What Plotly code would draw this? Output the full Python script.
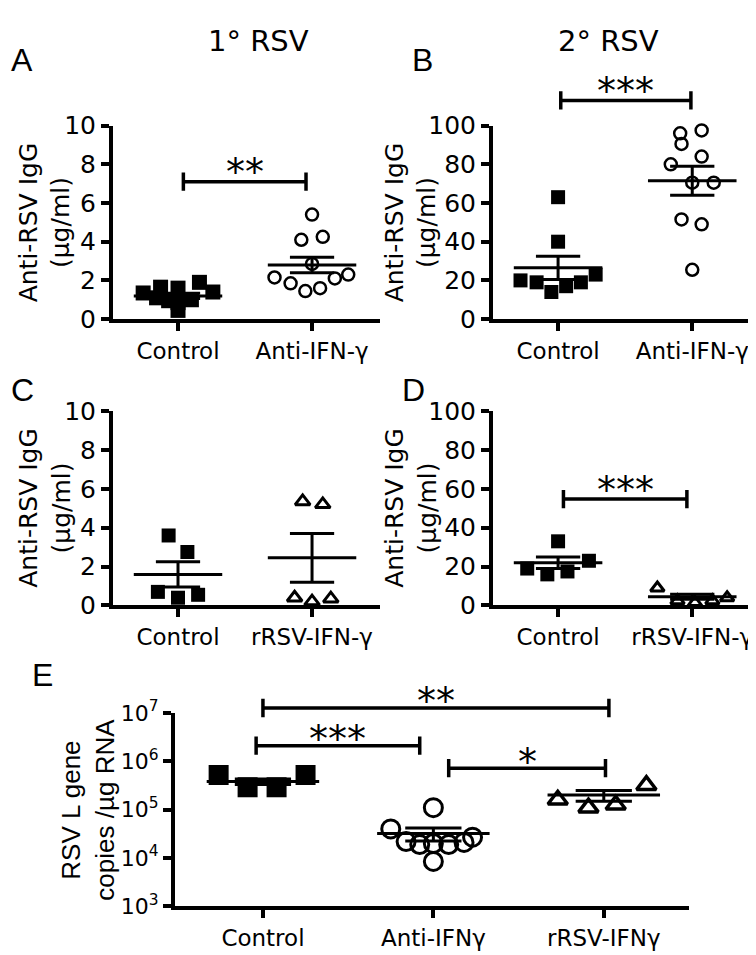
import math
import plotly.graph_objects as go

W, H = 756, 955

# ---------------- data ----------------
groups_AB = ["Control", "Anti-IFN-γ"]
groups_CD = ["Control", "rRSV-IFN-γ"]
groups_E = ["Control", "Anti-IFNγ", "rRSV-IFNγ"]

ticks_small = [0, 2, 4, 6, 8, 10]
ticks_large = [0, 20, 40, 60, 80, 100]
ticks_log = [1e3, 1e4, 1e5, 1e6, 1e7]
ticks_log_text = ["10<sup>3</sup>", "10<sup>4</sup>", "10<sup>5</sup>", "10<sup>6</sup>", "10<sup>7</sup>"]

# Panel A: 1° RSV, anti-RSV IgG (µg/ml)
a_control = [1.35, 1.65, 1.1, 1.6, 0.85, 0.45, 1.0, 1.9, 1.4, 0.95]
a_control_jitter = [-0.26, -0.13, -0.16, 0.0, 0.0, 0.0, 0.10, 0.16, 0.26, -0.07]
a_anti = [5.4, 4.1, 4.25, 2.85, 2.15, 1.85, 1.45, 1.6, 2.1, 2.3]
a_anti_jitter = [0.0, -0.08, 0.08, 0.0, -0.28, -0.16, -0.05, 0.06, 0.17, 0.27]
a_mean = [1.2, 2.8]
a_sem = [0.13, 0.4]

# Panel B: 2° RSV
b_control = [20, 19, 14, 17, 19, 23, 63, 40]
b_control_jitter = [-0.28, -0.16, -0.05, 0.06, 0.17, 0.28, 0.0, 0.0]
b_anti = [96, 97.5, 90.5, 84, 80, 70.5, 70.5, 51.5, 49, 25.5]
b_anti_jitter = [-0.09, 0.07, -0.08, 0.07, -0.16, 0.0, 0.16, -0.08, 0.07, 0.0]
b_mean = [26.5, 71.5]
b_sem = [6.0, 7.5]

# Panel C: 1° RSV, rRSV-IFN-γ
c_control = [3.6, 2.75, 0.7, 0.4, 0.55]
c_control_jitter = [-0.07, 0.07, -0.15, 0.0, 0.15]
c_rrsv = [5.35, 5.2, 0.4, 0.2, 0.35]
c_rrsv_jitter = [-0.07, 0.08, -0.13, 0.0, 0.14]
c_mean = [1.6, 2.45]
c_sem = [0.65, 1.25]

# Panel D: 2° RSV, rRSV-IFN-γ
d_control = [33, 19, 16, 17.5, 23]
d_control_jitter = [0.0, -0.23, -0.08, 0.07, 0.23]
d_rrsv = [9, 2.5, 1.5, 2.5, 4]
d_rrsv_jitter = [-0.26, -0.11, 0.02, 0.15, 0.26]
d_mean = [22, 4.5]
d_sem = [3.0, 1.3]

# Panel E: RSV L gene copies / µg RNA
e_control = [5.2e5, 2.9e5, 2.9e5, 5.2e5]
e_control_jitter = [-0.26, -0.09, 0.08, 0.25]
e_anti = [1.1e5, 4.0e4, 2.2e4, 1.9e4, 2.0e4, 1.9e4, 2.1e4, 2.7e4, 8.5e3]
e_anti_jitter = [0.0, -0.25, -0.16, -0.08, 0.0, 0.09, 0.18, 0.23, 0.0]
e_rrsv = [1.6e5, 1.1e5, 1.26e5, 3.2e5]
e_rrsv_jitter = [-0.27, -0.09, 0.07, 0.25]
e_mean = [3.8e5, 3.2e4, 2.0e5]
e_sem = [0.5e5, 0.95e4, 0.5e5]

# significance: (group from, group to, level, label)
sig_A = [(1.04, 1.955, 7.1, "**")]
sig_B = [(1.02, 1.99, 113, "***")]
sig_D = [(1.04, 1.96, 54.7, "***")]
sig_E = [(1.0, 3.03, 1.26e7, "**"), (0.96, 1.92, 2.1e6, "***"), (2.09, 3.01, 7.2e5, "*")]

# ---------------- styling ----------------
TICK_FONT = "DejaVu Sans"
LABEL_FONT = "DejaVu Sans"
ARIAL = "Liberation Sans, Arial"


def xdom(l, r):
    return [l / W, r / W]


def ydom(t, b):
    return [1 - b / H, 1 - t / H]


fig = go.Figure()


def add_points(xa, ya, cat, vals, jit, symbol, size, lw):
    fig.add_trace(go.Scatter(
        x=[cat + j for j in jit], y=vals, xaxis=xa, yaxis=ya, mode="markers",
        cliponaxis=False, hoverinfo="skip",
        marker=dict(symbol=symbol, size=size, color="black",
                    line=dict(width=lw, color="black"))))


def add_mean_sem(xa, ya, cat, mean, sem, hw=0.33, cw=0.165):
    xs = [cat - hw, cat + hw, None, cat, cat, None,
          cat - cw, cat + cw, None, cat - cw, cat + cw]
    ys = [mean, mean, None, mean - sem, mean + sem, None,
          mean + sem, mean + sem, None, mean - sem, mean - sem]
    fig.add_trace(go.Scatter(x=xs, y=ys, xaxis=xa, yaxis=ya, mode="lines",
                             hoverinfo="skip",
                             line=dict(color="black", width=3)))


def add_bracket(xa, ya, x0, x1, y, label, cap, log=False, tsize=38, toff=0.0):
    if log:
        lo, hi = y / cap, y * cap
    else:
        lo, hi = y - cap, y + cap
    xs = [x0, x0, None, x0, x1, None, x1, x1]
    ys = [lo, hi, None, y, y, None, lo, hi]
    fig.add_trace(go.Scatter(x=xs, y=ys, xaxis=xa, yaxis=ya, mode="lines",
                             hoverinfo="skip",
                             line=dict(color="black", width=3.5)))
    ty = math.log10(y) + toff if log else y + toff
    fig.add_annotation(x=(x0 + x1) / 2, y=ty, xref=xa, yref=ya,
                       text=label, showarrow=False, yanchor="bottom",
                       font=dict(family=LABEL_FONT, size=tsize, color="black"))


# Panel A
add_points("x", "y", 1, a_control, a_control_jitter, "square", 15, 0)
add_points("x", "y", 2, a_anti, a_anti_jitter, "circle-open", 12, 2.5)
for i, c in enumerate([1, 2]):
    add_mean_sem("x", "y", c, a_mean[i], a_sem[i])
for s in sig_A:
    add_bracket("x", "y", s[0], s[1], s[2], s[3], 0.47, toff=-0.75)

# Panel B
add_points("x2", "y2", 1, b_control, b_control_jitter, "square", 14, 0)
add_points("x2", "y2", 2, b_anti, b_anti_jitter, "circle-open", 12, 2.5)
for i, c in enumerate([1, 2]):
    add_mean_sem("x2", "y2", c, b_mean[i], b_sem[i])
for s in sig_B:
    add_bracket("x2", "y6", s[0], s[1], s[2], s[3], 4.7, toff=-7.5)

# Panel C
add_points("x3", "y3", 1, c_control, c_control_jitter, "square", 14, 0)
add_points("x3", "y3", 2, c_rrsv, c_rrsv_jitter, "triangle-up-open", 13, 3)
for i, c in enumerate([1, 2]):
    add_mean_sem("x3", "y3", c, c_mean[i], c_sem[i])

# Panel D
add_points("x4", "y4", 1, d_control, d_control_jitter, "square", 14, 0)
add_points("x4", "y4", 2, d_rrsv, d_rrsv_jitter, "triangle-up-open", 12, 3)
for i, c in enumerate([1, 2]):
    add_mean_sem("x4", "y4", c, d_mean[i], d_sem[i])
for s in sig_D:
    add_bracket("x4", "y4", s[0], s[1], s[2], s[3], 4.7, toff=-7.5)

# Panel E
add_points("x5", "y5", 1, e_control, e_control_jitter, "square", 20, 0)
add_points("x5", "y5", 2, e_anti, e_anti_jitter, "circle-open", 18, 3)
add_points("x5", "y5", 3, e_rrsv, e_rrsv_jitter, "triangle-up-open", 17, 3.5)
for i, c in enumerate([1, 2, 3]):
    add_mean_sem("x5", "y5", c, e_mean[i], e_sem[i])
for s in sig_E:
    add_bracket("x5", "y7", s[0], s[1], s[2], s[3], 10 ** 0.19, log=True, toff=-0.36)

axis_common = dict(showline=True, linewidth=4, linecolor="black", ticks="outside",
                   ticklen=8, tickwidth=3.5, tickcolor="black", showgrid=False,
                   zeroline=False, fixedrange=True,
                   tickfont=dict(family=TICK_FONT, size=25, color="black"))
xt_font = dict(family=TICK_FONT, size=23, color="black")

layout = dict(width=W, height=H, margin=dict(l=0, r=0, t=0, b=0),
              paper_bgcolor="white", plot_bgcolor="rgba(0,0,0,0)",
              showlegend=False, hovermode=False)

xA = [0.515, 2.507]
xB = [0.515, 2.49]
layout["xaxis"] = dict(axis_common, domain=xdom(105, 372), range=xA, anchor="y",
                       tickvals=[1, 2], ticktext=groups_AB, tickfont=xt_font)
layout["yaxis"] = dict(axis_common, domain=ydom(105, 305), range=[0, 10], anchor="x",
                       tickvals=ticks_small)
layout["xaxis2"] = dict(axis_common, domain=xdom(485, 750), range=xB, anchor="y2",
                        tickvals=[1, 2], ticktext=groups_AB, tickfont=xt_font)
layout["yaxis2"] = dict(axis_common, domain=ydom(105, 305), range=[0, 100], anchor="x2",
                        tickvals=ticks_large)
layout["xaxis3"] = dict(axis_common, domain=xdom(105, 372), range=xA, anchor="y3",
                        tickvals=[1, 2], ticktext=groups_CD, tickfont=xt_font)
layout["yaxis3"] = dict(axis_common, domain=ydom(400, 601), range=[0, 10], anchor="x3",
                        tickvals=ticks_small)
layout["xaxis4"] = dict(axis_common, domain=xdom(485, 750), range=xB, anchor="y4",
                        tickvals=[1, 2], ticktext=groups_CD, tickfont=xt_font)
layout["yaxis4"] = dict(axis_common, domain=ydom(400, 601), range=[0, 100], anchor="x4",
                        tickvals=ticks_large)
layout["xaxis5"] = dict(axis_common, domain=xdom(167, 681), range=[0.484, 3.5], anchor="y5",
                        tickvals=[1, 2, 3], ticktext=groups_E,
                        tickfont=dict(family=TICK_FONT, size=23, color="black"))
layout["yaxis5"] = dict(axis_common, domain=ydom(712, 912), range=[3, 7], anchor="x5",
                        type="log", tickvals=ticks_log, ticktext=ticks_log_text,
                        tickfont=dict(family=TICK_FONT, size=22, color="black"))
# helper axes sharing the scale of B and E, used for brackets above the plot top
layout["yaxis6"] = dict(domain=ydom(55, 305), range=[0, 125], anchor="x2", visible=False,
                        fixedrange=True)
layout["yaxis7"] = dict(domain=ydom(680, 912), range=[3, 7.64], anchor="x5", type="log",
                        visible=False, fixedrange=True)
fig.update_layout(**layout)


def paper_text(x, y, text, size, family, angle=0):
    fig.add_annotation(x=x / W, y=1 - y / H, xref="paper", yref="paper", text=text,
                       showarrow=False, textangle=angle, xanchor="center", yanchor="middle",
                       font=dict(family=family, size=size, color="black"))


paper_text(250, 18, "1° RSV", 29, LABEL_FONT)
paper_text(600, 18, "2° RSV", 29, LABEL_FONT)
paper_text(14, 37, "A", 32, ARIAL)
paper_text(414, 37, "B", 32, ARIAL)
paper_text(14, 378, "C", 32, ARIAL)
paper_text(405, 378, "D", 32, ARIAL)
paper_text(34, 673, "E", 32, ARIAL)
ylab = "Anti-RSV IgG<br>(µg/ml)"
paper_text(37, 205, ylab, 25, LABEL_FONT, -90)
paper_text(403, 205, ylab, 25, LABEL_FONT, -90)
paper_text(37, 500, ylab, 25, LABEL_FONT, -90)
paper_text(403, 500, ylab, 25, LABEL_FONT, -90)
paper_text(80, 812, "RSV L gene<br>copies /µg RNA", 26, ARIAL, -90)

fig.write_html("out.html")
